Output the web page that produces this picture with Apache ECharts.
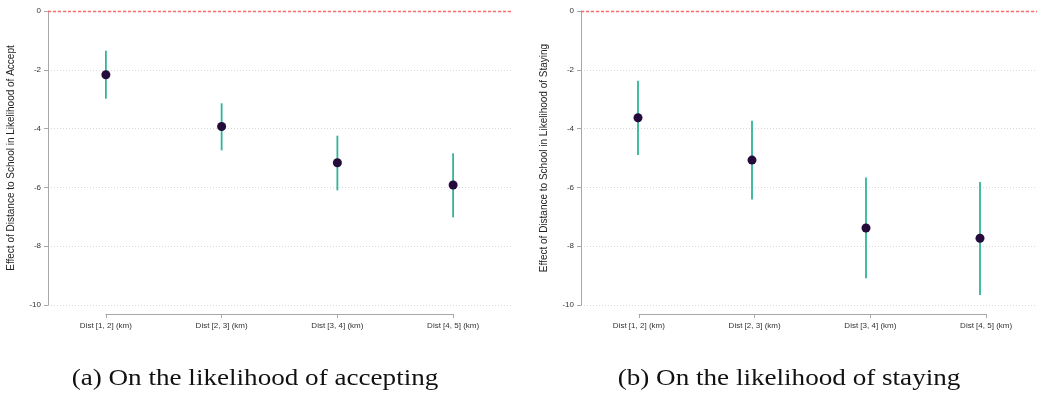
<!DOCTYPE html>
<html>
<head>
<meta charset="utf-8">
<script src="https://cdn.jsdelivr.net/npm/echarts@6/dist/echarts.min.js"></script>
<style>html,body{margin:0;padding:0;background:#fff}#c{width:1037px;height:398px}</style>
</head>
<body>
<div id="c"></div>
<script>
const categories = ['Dist [1, 2] (km)', 'Dist [2, 3] (km)', 'Dist [3, 4] (km)', 'Dist [4, 5] (km)'];
const yTicks = [0, -2, -4, -6, -8, -10];
// Panel (a): accepting
const acceptEst = [-2.17, -3.93, -5.16, -5.92];
const acceptLow = [-2.98, -4.74, -6.10, -7.02];
const acceptHigh = [-1.35, -3.14, -4.24, -4.84];
// Panel (b): staying
const stayEst = [-3.63, -5.07, -7.38, -7.73];
const stayLow = [-4.90, -6.41, -9.09, -9.66];
const stayHigh = [-2.37, -3.73, -5.66, -5.82];
const yTitles = ['Effect of Distance to School in Likelihood of Accept', 'Effect of Distance to School in Likelihood of Staying'];
const captions = ['(a) On the likelihood of accepting', '(b) On the likelihood of staying'];

const chart = echarts.init(document.getElementById('c'), null, {renderer: 'canvas'});
const panels = [
  {left: 48, est: acceptEst, lo: acceptLow, hi: acceptHigh, title: yTitles[0], cap: captions[0], capX: 255},
  {left: 581, est: stayEst, lo: stayLow, hi: stayHigh, title: yTitles[1], cap: captions[1], capX: 789}
];
const W = 463, TOP = 11, H = 294;
const grids = [], xAxes = [], yAxes = [], series = [], graphics = [];
panels.forEach((p, k) => {
  const band = W / categories.length;
  grids.push({left: p.left, top: TOP, width: W, height: H, containLabel: false});
  grids.push({left: p.left + band / 2, top: TOP + H, width: W - band, height: 9, containLabel: false});
  const gMain = k * 2, gAx = k * 2 + 1;
  xAxes.push({gridIndex: gMain, type: 'category', data: categories, boundaryGap: true, show: false});
  xAxes.push({gridIndex: gAx, type: 'category', data: categories, boundaryGap: false, position: 'bottom',
    axisLine: {show: true, lineStyle: {color: '#a8a8a8', width: 1}},
    axisTick: {show: true, alignWithLabel: true, length: 4, inside: false, lineStyle: {color: '#a8a8a8'}},
    axisLabel: {show: true, interval: 0, fontSize: 8, color: '#333', fontFamily: 'Liberation Sans', margin: 8},
    splitLine: {show: false}});
  yAxes.push({gridIndex: gMain, type: 'value', min: -10, max: 0, interval: 2,
    name: p.title, nameLocation: 'middle', nameRotate: 90, nameGap: 32,
    nameTextStyle: {fontSize: 10, color: '#222', fontFamily: 'Liberation Sans'},
    axisLine: {show: true, lineStyle: {color: '#a8a8a8', width: 1}},
    axisTick: {show: true, length: 4, lineStyle: {color: '#a8a8a8'}},
    axisLabel: {fontSize: 8, color: '#333', fontFamily: 'Liberation Sans', margin: 7,
      formatter: v => yTicks.includes(v) ? String(v) : ''},
    splitLine: {show: true, lineStyle: {color: '#d9d9d9', type: [1, 2], width: 1}}});
  yAxes.push({gridIndex: gAx, type: 'value', show: false});
  series.push({type: 'custom', xAxisIndex: k * 2, yAxisIndex: k * 2,
    data: categories.map((c, i) => [i, p.lo[i], p.hi[i]]),
    renderItem: (params, api) => {
      const a = api.coord([api.value(0), api.value(1)]);
      const b = api.coord([api.value(0), api.value(2)]);
      return {type: 'line', shape: {x1: a[0], y1: a[1], x2: b[0], y2: b[1]},
        style: {stroke: '#2fb596', lineWidth: 1.8}};
    },
    z: 2
  });
  series.push({type: 'scatter', xAxisIndex: k * 2, yAxisIndex: k * 2,
    data: categories.map((c, i) => [i, p.est[i]]),
    symbol: 'circle', symbolSize: 9, itemStyle: {color: '#250a3c', opacity: 1}, z: 3,
    markLine: {silent: true, symbol: ['none', 'none'], label: {show: false},
      lineStyle: {color: '#ff6a6a', type: [3, 2], width: 1.3, opacity: 1},
      emphasis: {disabled: true},
      data: [{yAxis: 0, lineStyle: {color: '#ff6a6a'}}]}
  });
  graphics.push({type: 'text', x: p.capX, y: 379, scaleX: 1.13, originX: 0, originY: 0,
    style: {text: p.cap, font: '24px "Liberation Serif"', fill: '#111', textAlign: 'center', textVerticalAlign: 'middle'}});
});
chart.setOption({
  animation: false,
  backgroundColor: '#fff',
  grid: grids, xAxis: xAxes, yAxis: yAxes, series: series,
  graphic: graphics
});
</script>
</body>
</html>
